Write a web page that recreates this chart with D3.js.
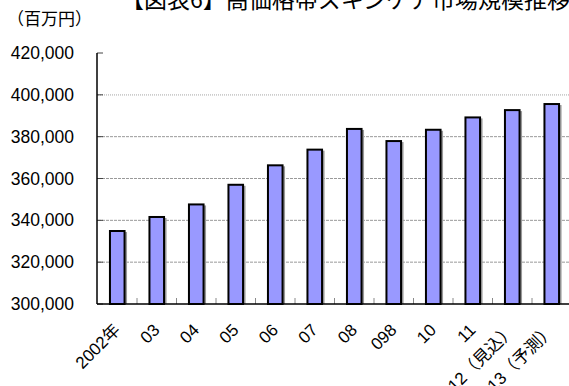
<!DOCTYPE html>
<html>
<head>
<meta charset="utf-8">
<style>
  body { margin: 0; background: #fff; }
  text { font-family: "Liberation Sans", "Noto Sans CJK JP", sans-serif; fill: #000; }
</style>
</head>
<body>
<svg width="569" height="386"></svg>
<script src="https://cdn.jsdelivr.net/npm/d3@7"></script>
<script>
// data
const years = ["2002年", "03", "04", "05", "06", "07", "08", "098", "10", "11", "12（見込）", "13（予測）"]
const sales = [334900, 341600, 347600, 357000, 366300, 373800, 383700, 377900, 383300, 389200, 392700, 395600]
const yTicks = [300000, 320000, 340000, 360000, 380000, 400000, 420000]

const svg = d3.select("svg")

// scales
const x = d3.scaleBand().domain(years).range([97.5, 571.5])
  .paddingInner(0.58).paddingOuter(0.29)
const y = d3.scaleLinear().domain([300000, 420000]).range([304, 53])
const fmt = d3.format(",")

// title (top is cut off in the original)
svg.append("text").attr("x", 121).attr("y", 8)
  .style("font-size", "23px").style("font-family", "'Noto Sans CJK JP', sans-serif")
  .text("【図表6】高価格帯スキンケア市場規模推移")

svg.append("text").attr("x", 7).attr("y", 25)
  .style("font-size", "17px").style("font-family", "'Noto Sans CJK JP', sans-serif")
  .text("（百万円）")

// gridlines
svg.append("g").selectAll("line").data(yTicks.filter(d => d > 300000 && d < 420000)).enter().append("line")
  .attr("x1", 98).attr("x2", 569)
  .attr("y1", d => y(d)).attr("y2", d => y(d))
  .attr("stroke", d => d == 400000 ? "#ccc" : "#999")
  .attr("stroke-width", d => d == 400000 ? 1.6 : 1)
  .attr("stroke-dasharray", d => d == 400000 ? "1,1" : "3,1")

// y ticks + labels
const yg = svg.append("g")
yg.selectAll("line").data(yTicks).enter().append("line")
  .attr("x1", 97).attr("x2", 103)
  .attr("y1", d => y(d)).attr("y2", d => y(d))
  .attr("stroke", "#444")
yg.selectAll("text").data(yTicks).enter().append("text")
  .attr("x", 74).attr("y", d => y(d) + 6)
  .attr("text-anchor", "end")
  .style("font-size", "17.5px")
  .text(d => fmt(d))

// x ticks between bars
const bounds = years.slice(0, -1).map(d => x(d) + x.bandwidth() + (x.step() - x.bandwidth()) / 2)
svg.append("g").selectAll("line").data(bounds).enter().append("line")
  .attr("x1", d => d).attr("x2", d => d)
  .attr("y1", 298).attr("y2", 304)
  .attr("stroke", "#888")

// bars with a grey shadow
const bars = svg.append("g")
bars.selectAll("rect.shadow").data(sales).enter().append("rect")
  .attr("class", "shadow")
  .attr("x", (d, i) => x(years[i]) + 1.5)
  .attr("y", d => y(d) + 1)
  .attr("width", x.bandwidth())
  .attr("height", d => y(300000) - y(d) - 1)
  .attr("fill", "#999")
bars.selectAll("rect.bar").data(sales).enter().append("rect")
  .attr("class", "bar")
  .attr("x", (d, i) => x(years[i]) + 1)
  .attr("y", d => y(d))
  .attr("width", x.bandwidth() - 2)
  .attr("height", d => y(300000) - y(d))
  .attr("fill", "#9999ff")
  .attr("stroke", "#000")
  .attr("stroke-width", 2)

// axes lines
svg.append("line").attr("x1", 97).attr("x2", 97).attr("y1", y(420000)).attr("y2", y(300000))
  .attr("stroke", "#000").attr("stroke-width", 1.5)
svg.append("line").attr("x1", 97).attr("x2", 569).attr("y1", y(300000)).attr("y2", y(300000))
  .attr("stroke", "#000").attr("stroke-width", 1.5)

// x labels, rotated -45 around their end point
const lx = d => x(d) + x.bandwidth() / 2 + 4
svg.append("g").selectAll("text").data(years).enter().append("text")
  .attr("x", lx)
  .attr("y", 331)
  .attr("text-anchor", "end")
  .attr("transform", d => "rotate(-45 " + lx(d) + " 331)")
  .style("font-size", "17px")
  .text(d => d)
</script>
</body>
</html>
